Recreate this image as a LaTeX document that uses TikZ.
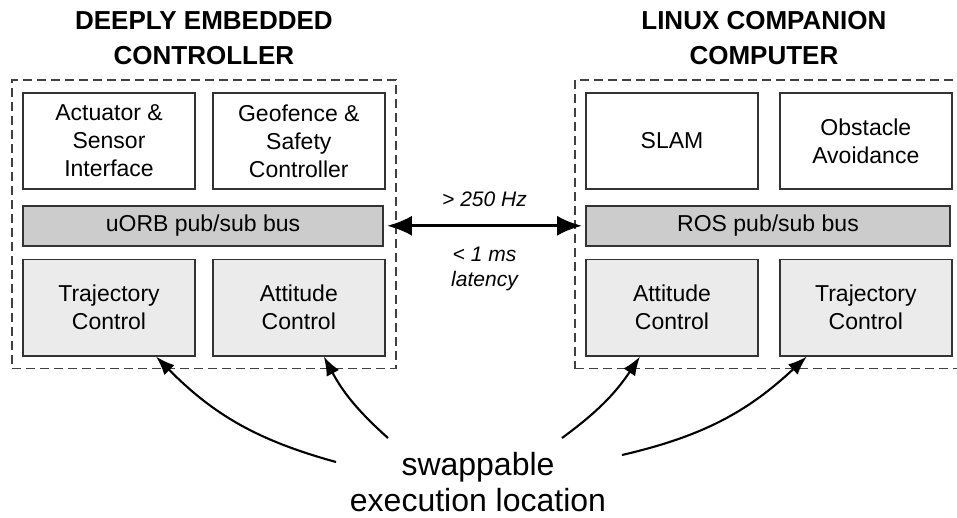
\documentclass[tikz,border=0pt]{standalone}
\usepackage{fontspec}
\setmainfont{Liberation Sans}
\usetikzlibrary{positioning,arrows.meta,fit}

\begin{document}
\begin{tikzpicture}[
  x=1pt, y=-1pt,
  node distance=16pt and 16pt,
  box/.style={
    rectangle, draw=black!80, line width=1.8pt,
    minimum width=172pt, minimum height=96pt,
    align=center, inner sep=2pt, font=\fontsize{23}{28}\selectfont,
  },
  module/.style={box, fill=white},
  ctrl/.style={box, fill=black!8},
  bus/.style={box, fill=black!20, minimum height=40pt},
  frame/.style={rectangle, draw=black!75, line width=1.9pt,
                dash pattern=on 9pt off 5pt, inner xsep=10pt, inner ysep=12pt},
  heading/.style={align=center, inner sep=0pt, font=\fontsize{26}{35}\selectfont\bfseries},
  rate/.style={align=center, inner sep=0pt, font=\fontsize{21}{25}\selectfont\itshape},
  note/.style={align=center, inner sep=0pt, font=\fontsize{32}{36}\selectfont},
  link/.style={{Latex[length=25pt,width=20pt]}-{Latex[length=25pt,width=20pt]}, line width=3.2pt},
  pointer/.style={-{Latex[length=19pt,width=14pt]}, line width=2.1pt},
]
\useasboundingbox (0,0) rectangle (957,518);
\clip (0,0) rectangle (957,518);

% embedded controller side
\node[module]                        (act)   at (109,141) {Actuator \&\\Sensor\\Interface};
\node[module, right=16pt of act]     (geo)   {Geofence \&\\Safety\\Controller};
\node[bus, minimum width=360pt, anchor=north west] (ubus) at ([yshift=-15pt]act.south west) {uORB pub/sub bus};
\node[ctrl, anchor=north west]       (trajL) at ([yshift=-12pt]ubus.south west) {Trajectory\\Control};
\node[ctrl, right=16pt of trajL]     (attL)  {Attitude\\Control};

% companion computer side
\node[module]                        (slam)  at (672,141) {SLAM};
\node[module, right=20pt of slam]    (obst)  {Obstacle\\Avoidance};
\node[bus, minimum width=364pt, anchor=north west] (rbus) at ([yshift=-15pt]slam.south west) {ROS pub/sub bus};
\node[ctrl, anchor=north west]       (attR)  at ([yshift=-12pt]rbus.south west) {Attitude\\Control};
\node[ctrl, right=20pt of attR]      (trajR) {Trajectory\\Control};

\node[frame, fit=(act)(geo)(ubus)(trajL)(attL)]  (ecu) {};
\node[frame, fit=(slam)(obst)(rbus)(attR)(trajR)] (cc) {};

\node[heading, above=14pt of ecu]             (ecutitle) {DEEPLY EMBEDDED\\CONTROLLER};
\node[heading, above=14pt of cc, xshift=-5pt] (cctitle)  {LINUX COMPANION\\COMPUTER};

\draw[link, shorten <=3pt, shorten >=3pt] (ubus) --
  node[rate, above=17pt] (hz)  {> 250 Hz}
  node[rate, below=20pt] (lat) {< 1 ms\\latency} (rbus);

\node[note] (swap) at (478,482) {swappable\\execution location};

\coordinate (p1) at (336,462);
\coordinate (p2) at (388,438);
\coordinate (p3) at (562,438);
\coordinate (p4) at (622,455);
\draw[pointer] (p1) to[bend left=15]  ([xshift=47pt]trajL.south);
\draw[pointer] (p2) to[bend left=10]  ([xshift=25pt]attL.south);
\draw[pointer] (p3) to[bend right=10] ([xshift=-32pt]attR.south);
\draw[pointer] (p4) to[bend right=15] ([xshift=-59pt]trajR.south);
\end{tikzpicture}
\end{document}
